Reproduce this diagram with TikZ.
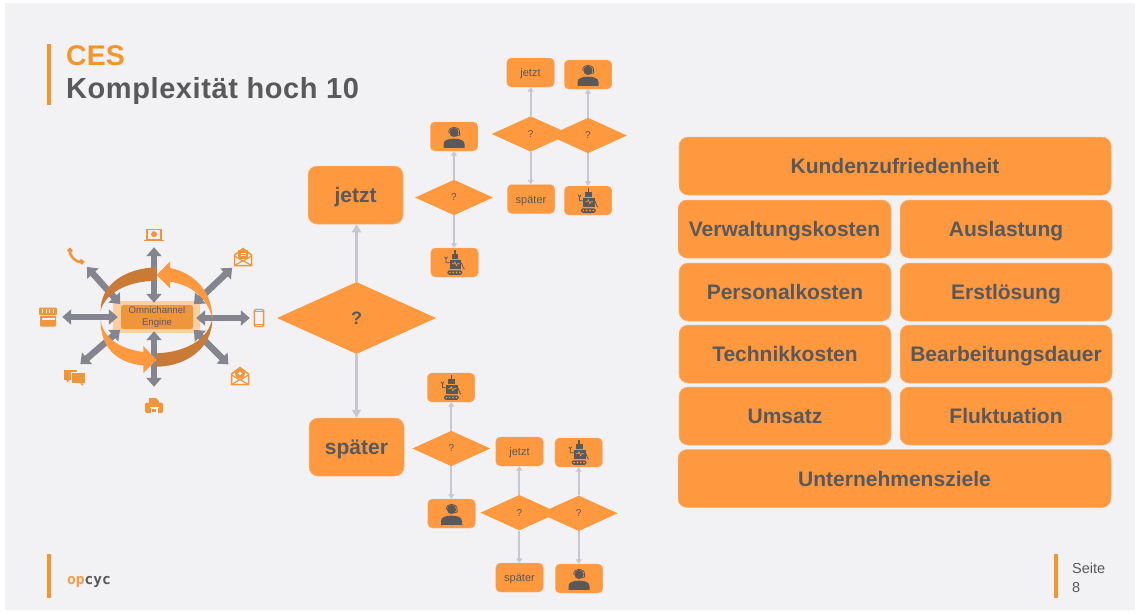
\documentclass[tikz,border=0pt]{standalone}
\usepackage{fontspec}
\setmainfont{Liberation Sans}
\newfontfamily\logofont{DejaVu Sans Mono}
\usetikzlibrary{arrows.meta}
\usetikzlibrary{shapes.geometric}
\definecolor{slide}{HTML}{F2F2F5}
\definecolor{boxorange}{HTML}{FF993F}
\definecolor{edgeorange}{HTML}{FFB27A}
\definecolor{iconorange}{HTML}{F0963A}
\definecolor{ringdark}{HTML}{C97B36}
\definecolor{paleorange}{HTML}{FBCFA4}
\definecolor{titleorange}{HTML}{F7952A}
\definecolor{textgrey}{HTML}{59595C}
\definecolor{hubgrey}{HTML}{85858F}
\definecolor{flowgrey}{HTML}{C6C7CF}
% icons, all drawn round their own centre
\def\agent{\tikz[x=1pt,y=-1pt,sharp corners]{
	\fill[textgrey] (0,-5) circle (4.6);
	\draw[textgrey,line width=0.8] (-5.4,-5) .. controls (-5.4,-12) and (5.6,-12) .. (5.6,-5) -- (5.6,-2.5) -- (2,-1.4);
	\fill[textgrey] (-10.5,10.5) -- (-10.5,6.5) .. controls (-10.5,2.5) and (-5,1.2) .. (0,1.2) .. controls (5,1.2) and (10.5,2.5) .. (10.5,6.5) -- (10.5,10.5) -- cycle;}
	}
\def\robot{\tikz[x=1pt,y=-1pt,sharp corners]{
	\fill[textgrey] (-3,-8) rectangle (3.6,-2.5);
	\fill[textgrey] (-0.6,-11.5) rectangle (0.8,-8);
	\fill[textgrey] (-5,-2) rectangle (6.5,7);
	\draw[boxorange,line width=0.6] (-3,2) -- (-1,2) -- (0,0) -- (1.5,4) -- (2.5,2) -- (5,2);
	\draw[textgrey,line width=0.8] (-5,1) -- (-8.8,1) -- (-8.8,-3) (-10.3,-5) -- (-8.8,-3) -- (-7.3,-5);
	\draw[textgrey,line width=0.8] (6.5,1) -- (8.5,6) -- (9.6,7.5);
	\fill[textgrey,rounded corners=1.8] (-7.5,8.5) rectangle (7.5,13);
	\foreach \w in {-5,-1.7,1.7,5} \fill[boxorange] (\w,10.8) circle (0.9);}
	}
\def\phoneicon{\tikz[x=1pt,y=-1pt]{
	\draw[iconorange,line width=2.6] (-6,-6) .. controls (-6,0) and (0,6) .. (6,6);
	\draw[iconorange,line width=4] (-7,-7.5) -- (-4.2,-4.2) (4.2,4.2) -- (7.8,7);}
	}
\def\laptopicon{\tikz[x=1pt,y=-1pt]{
	\draw[iconorange,line width=1.3] (-7,-6) rectangle (7,4);
	\fill[iconorange] (0,-1) circle (3);
	\draw[iconorange,line width=1.5] (-10,5.5) -- (10,5.5);}
	}
\def\mailicon{\tikz[x=1pt,y=-1pt]{
	\draw[iconorange,line width=1.5] (-8.5,-2) -- (-8.5,8.5) -- (8.5,8.5) -- (8.5,-2) -- (0,-8.5) -- cycle;
	\fill[iconorange] (-5,-7.5) rectangle (5,2);
	\draw[slide,line width=0.8] (-2.5,-4) -- (2.5,-4) (-2.5,-2) -- (2.5,-2);
	\draw[iconorange,line width=1.2] (-8.5,-1) -- (0,4) -- (8.5,-1) (-8.5,8.5) -- (0,3.5) -- (8.5,8.5);}
	}
\def\mailaticon{\tikz[x=1pt,y=-1pt]{
	\draw[iconorange,line width=1.5] (-8.5,-2) -- (-8.5,8.5) -- (8.5,8.5) -- (8.5,-2) -- (0,-8.5) -- cycle;
	\fill[iconorange] (0,-2.5) circle (5.2);
	\fill[slide] (0,-2.5) circle (1.8);
	\draw[iconorange,line width=1.2] (-8.5,-1) -- (0,4) -- (8.5,-1) (-8.5,8.5) -- (0,3.5) -- (8.5,8.5);}
	}
\def\mobileicon{\tikz[x=1pt,y=-1pt]{
	\draw[iconorange,line width=1.4,rounded corners=1.2] (-4.6,-8.5) rectangle (4.6,8.5);
	\draw[iconorange,line width=1.2] (-4.6,-6.8) -- (4.6,-6.8) (-4.6,6.8) -- (4.6,6.8);}
	}
\def\printericon{\tikz[x=1pt,y=-1pt]{
	\fill[iconorange] (-5,-8) -- (2,-8) -- (5,-5) -- (5,0) -- (-5,0) -- cycle;
	\fill[iconorange,rounded corners=1.5] (-9,-3.5) rectangle (9,7);
	\fill[slide] (-4.5,0.5) rectangle (4.5,2);
	\fill[slide] (-3.5,2) rectangle (3.5,8);
	\fill[iconorange] (-2,3) rectangle (2,6);}
	}
\def\chaticon{\tikz[x=1pt,y=-1pt]{
	\fill[iconorange] (-11,-7) rectangle (2,2.5);
	\fill[iconorange] (-8.5,2.5) -- (-5,2.5) -- (-7.5,5) -- cycle;
	\draw[slide,line width=1] (-3.5,-4.5) rectangle (11,5.5);
	\fill[iconorange] (-3,-4) rectangle (10.5,6);
	\fill[iconorange] (5,6) -- (9,6) -- (8,8.5) -- cycle;}
	}
\def\shopicon{\tikz[x=1pt,y=-1pt]{
	\fill[iconorange,rounded corners=1] (-8,-1) rectangle (8,10);
	\fill[iconorange,rounded corners=1] (-9,-9) rectangle (9,-1.5);
	\foreach \s in {-5.5,-1.8,1.8,5.5} \draw[slide,line width=1] (\s,-7.5) -- (\s,-3.5);
	\fill[slide] (-6.5,1.5) rectangle (6.5,3.8);}
	}
\tikzset{
	bigbox/.style={fill=boxorange,draw=edgeorange,line width=0.5,rounded corners=9,inner sep=0,text=textgrey,text height=15,text depth=0,font=\bfseries\fontsize{21}{24}\selectfont},
	smallbox/.style={fill=boxorange,draw=edgeorange,line width=0.4,rounded corners=4.5,inner sep=0,text=textgrey,font=\fontsize{11}{12}\selectfont,minimum width=47.5,minimum height=29},
	smalltext/.style={text height=8,text depth=0},
	smalldia/.style={diamond,aspect=2.2,fill=boxorange,inner sep=0,text=textgrey,font=\fontsize{10}{12}\selectfont,minimum width=78,minimum height=35.5},
	flowbox/.style={bigbox,minimum width=95,minimum height=58},
	tile/.style={bigbox,minimum width=212,minimum height=58},
	wide/.style={bigbox,minimum width=432,minimum height=58},
	flowline/.style={flowgrey,line width=2,-{Triangle[width=6,length=4.5]}},
	mainline/.style={flowgrey,line width=3,-{Triangle[width=9,length=8]}},
	hubline/.style={hubgrey,line width=6.5,{Triangle[width=15,length=9]}-{Triangle[width=15,length=9]}},
	iconnode/.style={inner sep=0,minimum width=18,minimum height=18},
	footer/.style={text=textgrey,font=\fontsize{14.5}{17}\selectfont,anchor=base west,inner sep=0}
}
\begin{document}
\begin{tikzpicture}[x=1pt,y=-1pt]
	\useasboundingbox (0,0) rectangle (1140,613);
	\fill[white] (0,0) rectangle (1140,613);
	\fill[slide] (5,3) rectangle (1135,610);
	% title and footer
	\fill[titleorange] (47,44) rectangle (51,105);
	\fill[titleorange] (47,554) rectangle (51,598);
	\fill[titleorange] (1054,554) rectangle (1058,598);
	\node[anchor=base west,inner sep=0,text=titleorange,font=\bfseries\fontsize{28.5}{30}\selectfont] (ces) at (66,65) {CES};
	\node[anchor=base west,inner sep=0,text=textgrey,font=\bfseries\fontsize{29}{30}\selectfont\addfontfeature{LetterSpace=2}] (title) at (66,98) {Komplexität hoch 10};
	\node[anchor=base west,inner sep=0,font=\logofont\bfseries\fontsize{14.5}{16}\selectfont] (logo) at (67,584) {\textcolor{boxorange}{op}\textcolor{textgrey}{cyc}};
	\node[footer] (seite) at (1072,573) {Seite};
	\node[footer] (page) at (1072,592) {8};
	% hub
	\node[fill=paleorange,minimum width=87,minimum height=32,inner sep=0] (enginebg) at (156.5,317) {};
	\node[fill=iconorange,rounded corners=2.5,minimum width=72,minimum height=24,inner sep=0,align=center,text=textgrey,font=\fontsize{9.6}{11.5}\selectfont] (engine) at (157,317) {Omnichannel\\Engine};
	\node[iconnode] (phone) at (76,256) {\phoneicon};
	\node[iconnode] (laptop) at (154,235) {\laptopicon};
	\node[iconnode] (mailtop) at (243,257) {\mailicon};
	\node[iconnode] (mobile) at (259,318) {\mobileicon};
	\node[iconnode] (mailbot) at (240,376) {\mailaticon};
	\node[iconnode] (printer) at (154,406) {\printericon};
	\node[iconnode] (chat) at (75,378) {\chaticon};
	\node[iconnode] (shop) at (48,317) {\shopicon};
	\draw[hubline,shorten >=2,shorten <=3] (laptop.south) -- (laptop.south |- engine.north);
	\draw[hubline,shorten >=2,shorten <=10] (printer.north) -- (printer.north |- engine.south);
	\draw[hubline,shorten >=3,shorten <=5] (shop.east) -- (shop.east -| engine.west);
	\draw[hubline,shorten >=3,shorten <=0] (mobile.west) -- (mobile.west -| engine.east);
	\draw[hubline,shorten <=2,shorten >=1] (phone.south east) -- (engine.north west);
	\draw[hubline,shorten <=2,shorten >=1] (mailtop.south west) -- (engine.north east);
	\draw[hubline,shorten <=3,shorten >=1] (mailbot.north west) -- (engine.south east);
	\draw[hubline,shorten <=7,shorten >=1] (chat.north) -- (engine.south west);
	% ring
	\fill[ringdark] (156.7,267.3) .. controls (125,268) and (100,285) .. (100.7,311) .. controls (104,295) and (125,281) .. (156.7,280.7) -- cycle;
	\fill[boxorange] (100.7,320) .. controls (103,338) and (120,349) .. (143.3,352) -- (143.3,346) -- (156.7,360) -- (143.3,373) -- (143.3,365.5) .. controls (115,363) and (100,345) .. (100.7,320) -- cycle;
	\fill[ringdark] (156.7,353.3) .. controls (188,352) and (209,338) .. (212.3,318) .. controls (213,345) and (190,366) .. (156.7,366.7) -- cycle;
	\fill[boxorange] (156.7,275) -- (170,261.7) -- (170,268) .. controls (195,273) and (212,292) .. (212.3,318) .. controls (207,298) and (192,285) .. (170,281.7) -- (170,288.3) -- cycle;
	% main decision
	\node[diamond,aspect=2.2,fill=boxorange,inner sep=0,minimum width=159,minimum height=72,text=textgrey,font=\bfseries\fontsize{18}{20}\selectfont] (main) at (356.5,318) {?};
	\node[flowbox] (now) at (355.5,195) {jetzt};
	\node[flowbox] (later) at (356.5,447) {später};
	\draw[mainline] (main.north) -- (main.north |- now.south);
	\draw[mainline] (main.south) -- (main.south |- later.north);
	% upper branch
	\node[smalldia] (da) at (454,197.5) {?};
	\node[smallbox] (aa) at (454,136.5) {\agent};
	\node[smallbox] (ab) at (454.5,262.5) {\robot};
	\node[smalldia] (db) at (530.7,134) {?};
	\node[smallbox,smalltext] (ac) at (530.5,72.5) {jetzt};
	\node[smallbox,smalltext] (ad) at (531,199) {später};
	\node[smalldia] (dc) at (588,135.5) {?};
	\node[smallbox] (ae) at (588,74.5) {\agent};
	\node[smallbox] (af) at (588,200.5) {\robot};
	% lower branch
	\node[smalldia] (dd) at (451.3,448.5) {?};
	\node[smallbox] (ag) at (451,387.5) {\robot};
	\node[smallbox] (ah) at (451.5,513.5) {\agent};
	\node[smalldia] (de) at (519.3,512.7) {?};
	\node[smallbox,smalltext] (ai) at (519.5,451.5) {jetzt};
	\node[smallbox,smalltext] (aj) at (519.5,577.5) {später};
	\node[smalldia] (df) at (578.7,513.3) {?};
	\node[smallbox] (ak) at (578.7,452.5) {\robot};
	\node[smallbox] (al) at (579,578.5) {\agent};
	\foreach \d/\u/\l in {da/aa/ab,db/ac/ad,dc/ae/af,dd/ag/ah,de/ai/aj,df/ak/al}{
		\draw[flowline] (\d.north) -- (\d.north |- \u.south);
		\draw[flowline] (\d.south) -- (\d.south |- \l.north);
	}
	% outcome grid
	\node[wide] (k1) at (895,166) {Kundenzufriedenheit};
	\node[tile,minimum width=213] (k2) at (784.5,229) {Verwaltungskosten};
	\node[tile] (k3) at (1006,229) {Auslastung};
	\node[tile] (k4) at (785,292) {Personalkosten};
	\node[tile] (k5) at (1006,292) {Erstlösung};
	\node[tile] (k6) at (785,354) {Technikkosten};
	\node[tile] (k7) at (1006,354) {Bearbeitungsdauer};
	\node[tile] (k8) at (785,416) {Umsatz};
	\node[tile] (k9) at (1006,416) {Fluktuation};
	\node[wide,minimum width=433] (k10) at (894.5,478.5) {Unternehmensziele};
\end{tikzpicture}
\end{document}
